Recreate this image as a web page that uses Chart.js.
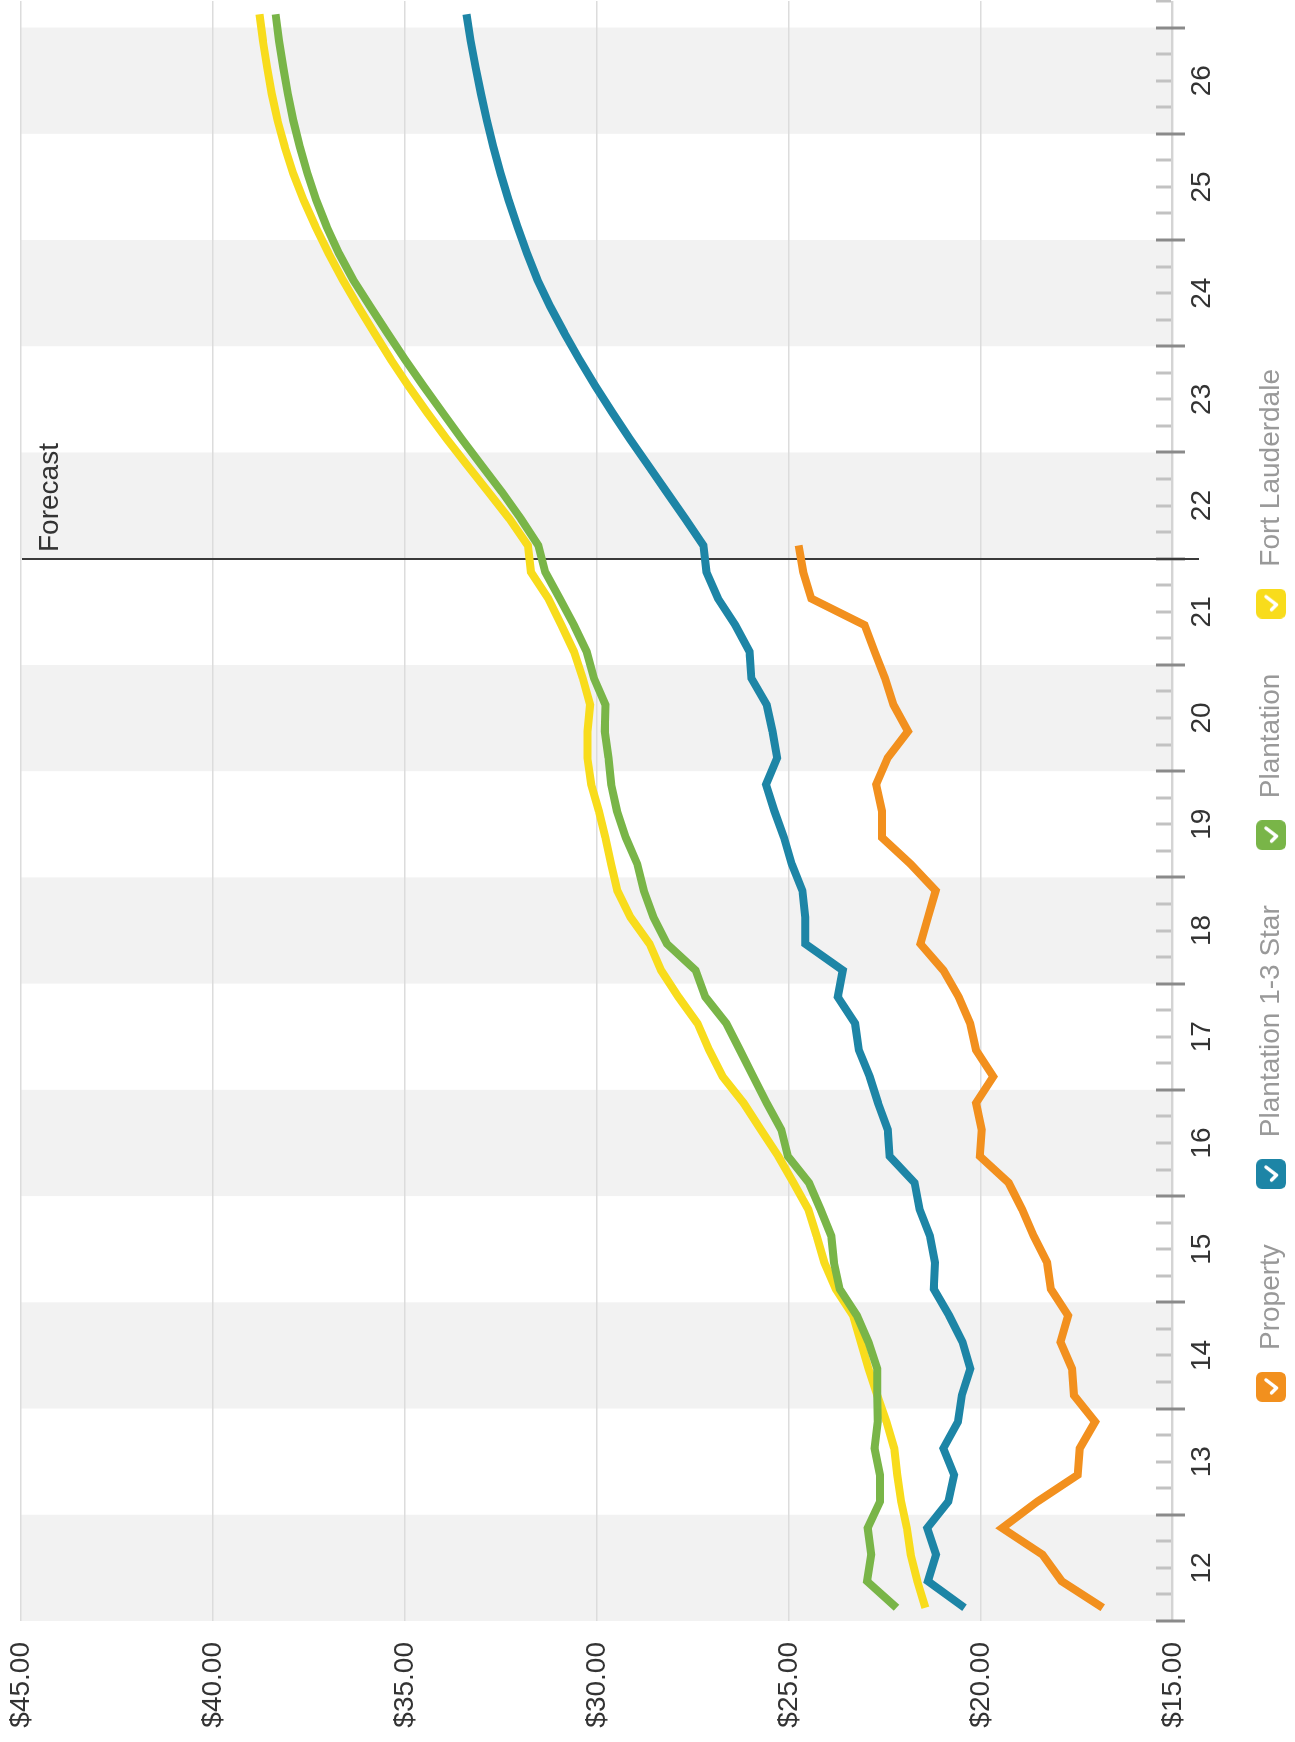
<!DOCTYPE html>
<html>
<head>
<meta charset="utf-8">
<script src="https://cdn.jsdelivr.net/npm/chart.js@4.4.1/dist/chart.umd.min.js"></script>
<style>
  html, body { margin: 0; padding: 0; background: #fff; width: 1295px; height: 1742px; overflow: hidden; }
  /* the chart is laid out landscape and turned a quarter turn to stand upright on the page */
  #wrap { position: absolute; left: 0; top: 0; width: 1742px; height: 1295px;
          transform-origin: 0 0; transform: translate(0, 1742px) rotate(-90deg); }
  canvas { display: block; }
</style>
</head>
<body>
<div id="wrap"><canvas id="c" width="1742" height="1295"></canvas></div>
<script>
// Year tick labels (one per calendar year, 2012-2026)
const yearLabels = ['12','13','14','15','16','17','18','19','20','21','22','23','24','25','26'];
// Index of the first forecast quarter (quarters counted from 2012 Q1)
const forecastStart = 40;

// Asking rent per SF, quarterly from 2012 Q1
const property = [
  16.83, 17.90, 18.40, 19.45, 18.53, 17.48, 17.43, 17.03, 17.58, 17.63,
  17.93, 17.73, 18.18, 18.28, 18.63, 18.93, 19.28, 20.03, 19.98, 20.13,
  19.68, 20.13, 20.28, 20.58, 20.98, 21.58, 21.38, 21.18, 21.83, 22.58,
  22.58, 22.73, 22.43, 21.90, 22.28, 22.50, 22.77, 23.03, 24.42, 24.63,
  24.75
];
const plantation13Star = [
  20.43, 21.38, 21.17, 21.40, 20.85, 20.70, 20.98, 20.60, 20.50, 20.28,
  20.48, 20.83, 21.23, 21.20, 21.33, 21.60, 21.73, 22.38, 22.43, 22.68,
  22.90, 23.18, 23.28, 23.73, 23.60, 24.58, 24.58, 24.65, 24.93, 25.13,
  25.38, 25.60, 25.31, 25.43, 25.58, 25.98, 26.03, 26.40, 26.85, 27.15,
  27.23, 27.70, 28.18, 28.66, 29.14, 29.60, 30.04, 30.46, 30.85, 31.22,
  31.55, 31.82, 32.07, 32.30, 32.51, 32.70, 32.87, 33.02, 33.16, 33.29,
  33.40
];
const plantation = [
  22.20, 22.97, 22.86, 22.95, 22.63, 22.63, 22.77, 22.69, 22.70, 22.70,
  22.93, 23.23, 23.68, 23.83, 23.90, 24.18, 24.48, 25.03, 25.20, 25.58,
  25.93, 26.28, 26.63, 27.18, 27.43, 28.18, 28.53, 28.78, 28.95, 29.25,
  29.48, 29.63, 29.70, 29.80, 29.78, 30.08, 30.27, 30.60, 30.97, 31.35,
  31.53, 31.98, 32.47, 33.00, 33.52, 34.02, 34.52, 35.00, 35.46, 35.91,
  36.35, 36.72, 37.04, 37.31, 37.54, 37.74, 37.91, 38.05, 38.17, 38.28,
  38.37
];
const fortLauderdale = [
  21.45, 21.66, 21.83, 21.93, 22.08, 22.18, 22.26, 22.46, 22.70, 22.93,
  23.13, 23.33, 23.78, 24.08, 24.28, 24.50, 24.88, 25.28, 25.73, 26.18,
  26.73, 27.08, 27.38, 27.88, 28.33, 28.63, 29.13, 29.47, 29.63, 29.78,
  29.95, 30.15, 30.25, 30.25, 30.18, 30.37, 30.60, 30.93, 31.27, 31.72,
  31.80, 32.28, 32.82, 33.37, 33.91, 34.42, 34.91, 35.37, 35.80, 36.22,
  36.62, 36.99, 37.33, 37.64, 37.91, 38.13, 38.32, 38.47, 38.59, 38.70,
  38.79
];

const seriesNames  = ['Property', 'Plantation 1-3 Star', 'Plantation', 'Fort Lauderdale'];
const seriesColors = ['#f2901e', '#1d85a6', '#79b548', '#f8dc1c'];
const seriesValues = [property, plantation13Star, plantation, fortLauderdale];

const FONT = "'Liberation Sans', Arial, Helvetica, sans-serif";
const lastQuarter = fortLauderdale.length - 1;

// rounded legend swatch with a white check mark
function swatch(color) {
  const c = document.createElement('canvas');
  c.width = 30; c.height = 30;
  const g = c.getContext('2d');
  g.fillStyle = color;
  g.beginPath();
  g.roundRect(0, 0, 30, 30, 6);
  g.fill();
  g.strokeStyle = '#fff';
  g.lineWidth = 3.5;
  g.lineCap = 'round';
  g.lineJoin = 'round';
  g.beginPath();
  g.moveTo(9, 15.5);
  g.lineTo(14, 20.5);
  g.lineTo(22, 10);
  g.stroke();
  return c;
}

// alternating year bands, quarter tick marks and the forecast divider
const decorations = {
  id: 'decorations',
  afterLayout(chart) {
    // let the year labels use the full band under the axis, nudge the legend row
    chart.scales.x.bottom += 40;
    chart.legend.left -= 18;
    chart.legend.right -= 18;
  },
  beforeDraw(chart) {
    const { ctx, chartArea: a, scales: { x } } = chart;
    ctx.save();
    ctx.fillStyle = '#f2f2f2';
    yearLabels.forEach((_, k) => {
      if (k % 2) return;
      const x0 = x.getPixelForValue(k * 4 - 0.5);
      const x1 = x.getPixelForValue(k * 4 + 3.5);
      ctx.fillRect(x0, a.top, x1 - x0, a.bottom - a.top);
    });
    ctx.restore();
  },
  beforeDatasetsDraw(chart) {
    const { ctx, chartArea: a, scales: { x } } = chart;
    ctx.save();
    // axis line
    ctx.strokeStyle = '#d4d4d4';
    ctx.lineWidth = 2;
    ctx.beginPath();
    ctx.moveTo(a.left, a.bottom - 1);
    ctx.lineTo(a.right, a.bottom - 1);
    ctx.stroke();
    // quarter ticks, longer and darker at year boundaries
    for (let b = 0; b <= lastQuarter + 1; b++) {
      const px = Math.round(x.getPixelForValue(b - 0.5));
      const major = b % 4 === 0;
      ctx.strokeStyle = major ? '#8a8a8a' : '#c2c2c2';
      ctx.lineWidth = 3;
      ctx.beginPath();
      ctx.moveTo(px, a.bottom - 17);
      ctx.lineTo(px, major ? a.bottom + 12 : a.bottom - 2);
      ctx.stroke();
    }
    // forecast divider
    const fx = Math.round(x.getPixelForValue(forecastStart - 0.5));
    ctx.strokeStyle = '#3a3a3a';
    ctx.lineWidth = 2;
    ctx.beginPath();
    ctx.moveTo(fx, a.top + 1);
    ctx.lineTo(fx, a.bottom + 26);
    ctx.stroke();
    ctx.fillStyle = '#333';
    ctx.font = '28px ' + FONT;
    ctx.textAlign = 'left';
    ctx.textBaseline = 'alphabetic';
    ctx.fillText('Forecast', fx + 7, a.top + 37);
    ctx.restore();
  }
};

new Chart(document.getElementById('c'), {
  type: 'line',
  data: {
    datasets: seriesNames.map((name, s) => ({
      label: name,
      data: seriesValues[s].map((v, i) => ({ x: i, y: v })),
      borderColor: seriesColors[s],
      backgroundColor: seriesColors[s],
      borderWidth: 8,
      pointRadius: 0,
      tension: 0,
      fill: false,
      borderCapStyle: 'butt'
    }))
  },
  options: {
    responsive: false,
    animation: false,
    events: [],
    devicePixelRatio: 1,
    layout: { padding: { top: 0, right: 1, left: 0, bottom: 0 } },
    scales: {
      x: {
        type: 'linear',
        min: -0.5,
        max: lastQuarter + 0.5,
        afterBuildTicks(axis) {
          axis.ticks = yearLabels.map((_, k) => ({ value: k * 4 + 1.5 }));
        },
        afterFit(axis) { axis.height = 37; },
        grid: { display: false },
        border: { display: false },
        ticks: {
          autoSkip: false,
          maxRotation: 0,
          padding: 4,
          color: '#333',
          font: { family: FONT, size: 28 },
          callback: (value, index) => yearLabels[index]
        }
      },
      y: {
        min: 15,
        max: 45,
        afterFit(axis) {
          axis.width = 121;
          axis.paddingTop = 21;
          axis.paddingBottom = 0;
        },
        grid: { color: '#dcdcdc', lineWidth: 1.5, drawTicks: false },
        border: { display: false },
        ticks: {
          stepSize: 5,
          padding: 21,
          color: '#333',
          font: { family: FONT, size: 28 },
          callback: v => '$' + Number(v).toFixed(2)
        }
      }
    },
    plugins: {
      tooltip: { enabled: false },
      legend: {
        position: 'bottom',
        labels: {
          usePointStyle: true,
          pointStyleWidth: 46,
          padding: 47,
          color: '#999',
          font: { family: FONT, size: 28 },
          generateLabels: chart => chart.data.datasets.map((d, i) => ({
            text: d.label,
            fillStyle: d.borderColor,
            strokeStyle: d.borderColor,
            fontColor: '#999',
            lineWidth: 0,
            pointStyle: swatch(d.borderColor),
            hidden: false,
            datasetIndex: i
          }))
        }
      }
    }
  },
  plugins: [decorations]
});
</script>
</body>
</html>
